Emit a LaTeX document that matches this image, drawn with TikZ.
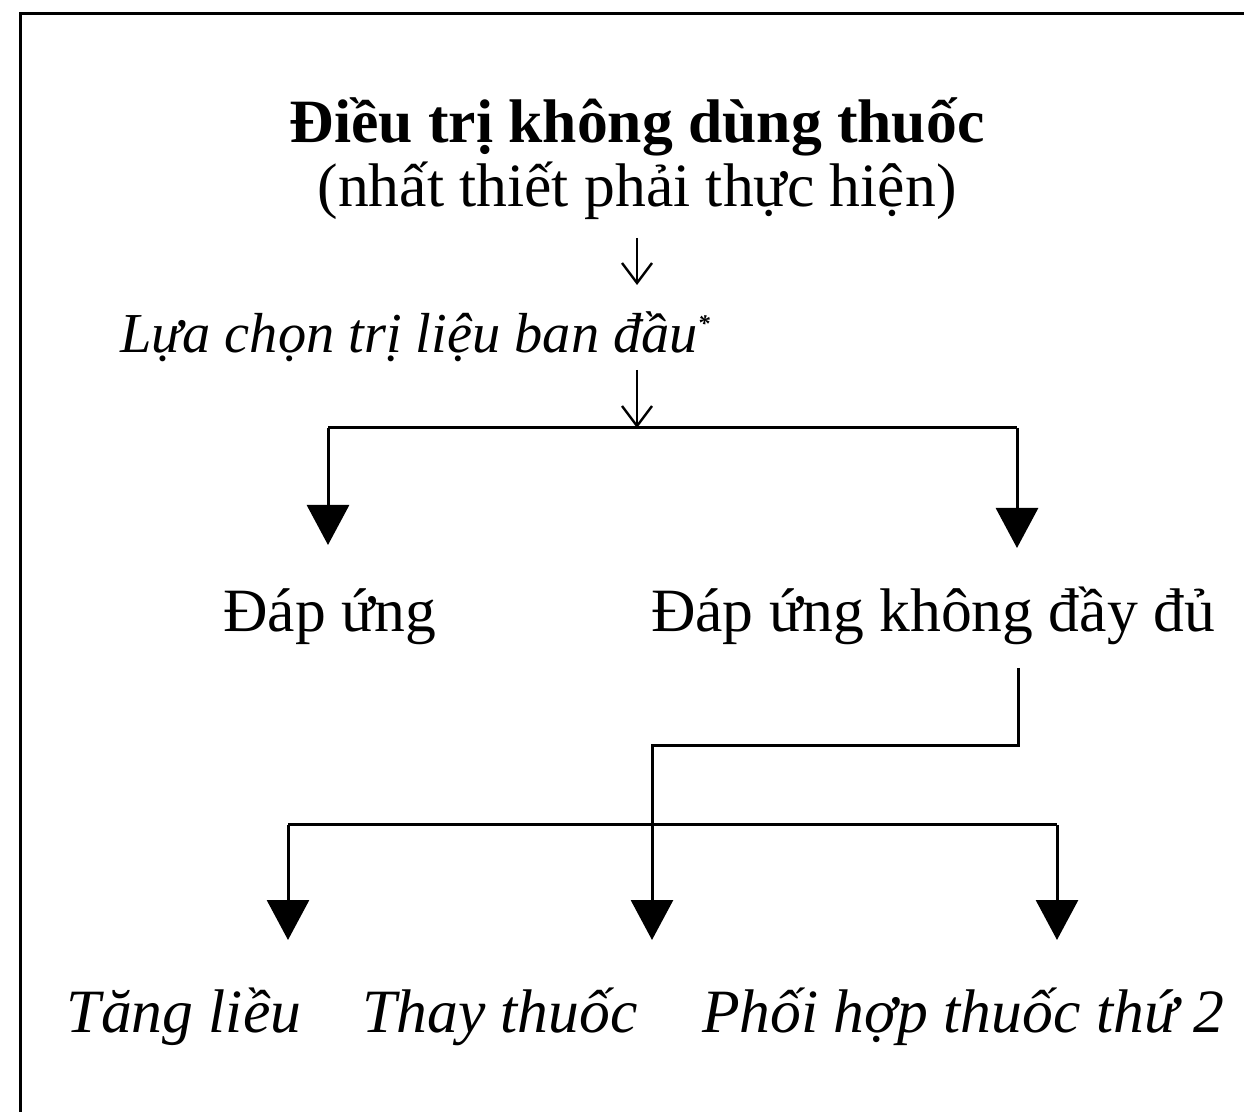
\documentclass[tikz,border=0pt]{standalone}
\usepackage{fontspec}
\setmainfont{Liberation Serif}
\usetikzlibrary{arrows.meta}
\begin{document}
\begin{tikzpicture}[x=0.5pt,y=-0.5pt,
  txt/.style={inner sep=0pt, anchor=base, font=\fontsize{30.8}{36}\selectfont},
  itxt/.style={inner sep=0pt, anchor=base, font=\fontsize{30.8}{36}\selectfont\itshape},
  link/.style={line width=1.5pt},
  thinarrow/.style={line width=1pt, -{Straight Barb[length=10pt,width=15pt,line width=1.2pt]}},
  bigarrow/.style={line width=1.5pt, -{Triangle[length=20pt,width=21pt]}}]
\useasboundingbox (0,0) rectangle (1244,1112);
\fill[white] (0,0) rectangle (1244,1112);
% frame edges
\draw[line width=1.5pt] (20,1112) -- (20,14) -- (1244,14);

% texts
\node[txt, font=\fontsize{30.8}{36}\selectfont\bfseries] (title) at (637,143) {Điều trị không dùng thuốc};
\node[txt] (sub) at (637,207) {(nhất thiết phải thực hiện)};
\node[itxt, anchor=base west, font=\fontsize{28.2}{34}\selectfont\itshape] (choice) at (120,353) {Lựa chọn trị liệu ban đầu\raisebox{0.38em}{\fontsize{12}{14}\selectfont\bfseries *}};
\node[txt] (resp) at (330,632) {Đáp ứng};
\node[txt] (partial) at (933,632) {Đáp ứng không đầy đủ};
\node[itxt] (dose) at (184,1032) {Tăng liều};
\node[itxt] (switch) at (500,1032) {Thay thuốc};
\node[itxt] (combo) at (963,1032) {Phối hợp thuốc thứ 2};

% junction points
\coordinate (s1) at (637,238);
\coordinate (e1) at (637,285);
\coordinate (s2) at (637,370);
\coordinate (j2) at (637,428);
\coordinate (bl) at (328,428);
\coordinate (br) at (1017,428);
\coordinate (tl) at (328,545);
\coordinate (tr) at (1017,548);
\coordinate (p0) at (1018,668);
\coordinate (p1) at (1018,746);
\coordinate (p2) at (652,746);
\coordinate (tm) at (652,940);
\coordinate (ql) at (288,825);
\coordinate (qr) at (1057,825);
\coordinate (tq1) at (288,940);
\coordinate (tq3) at (1057,940);

% connectors
\draw[thinarrow] (s1) -- (e1);
\draw[thinarrow] (s2) -- (j2);
\draw[link] (bl) -- (br);
\draw[bigarrow] (bl) -- (tl);
\draw[bigarrow] (br) -- (tr);
\draw[bigarrow, line join=miter] (p0) -- (p1) -- (p2) -- (tm);
\draw[link] (ql) -- (qr);
\draw[bigarrow] (ql) -- (tq1);
\draw[bigarrow] (qr) -- (tq3);
\end{tikzpicture}
\end{document}
